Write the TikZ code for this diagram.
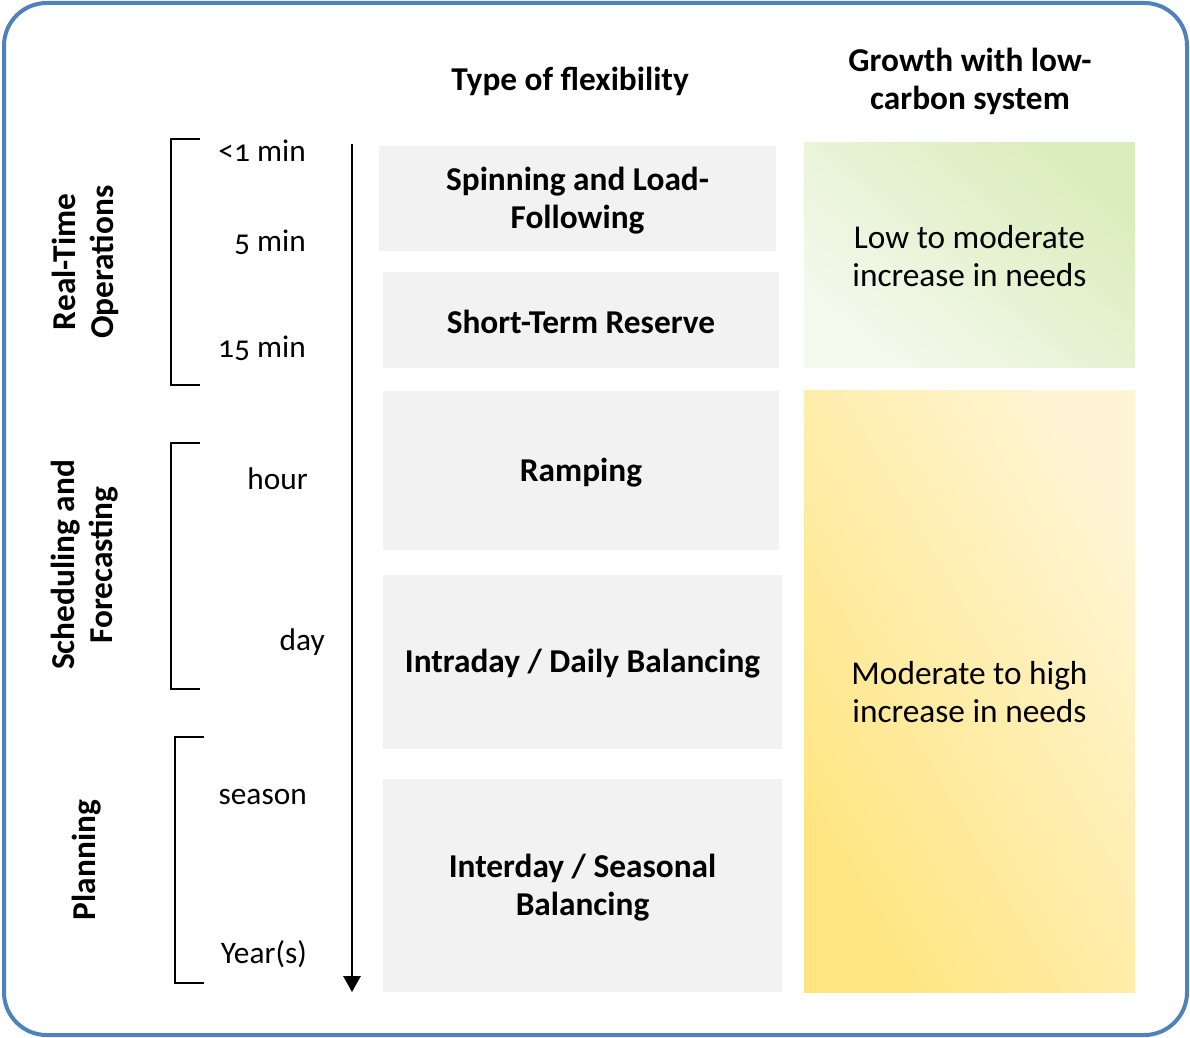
\documentclass[tikz,border=0pt]{standalone}
\usepackage{fontspec}
\setmainfont{Carlito}[Numbers=OldStyle]
\usetikzlibrary{arrows.meta}
\definecolor{framecol}{RGB}{79,129,189}
\definecolor{boxgray}{RGB}{242,242,242}
\definecolor{greenA}{RGB}{244,249,237}
\definecolor{greenB}{RGB}{219,237,188}
\definecolor{yellowA}{RGB}{255,229,128}
\definecolor{yellowB}{RGB}{255,245,212}
\newlength\px
\setlength\px{0.75pt}
\tikzset{
  fbox/.style={fill=boxgray, inner sep=0pt},
  ftext/.style={inner sep=0pt, align=center, font=\fontsize{25}{28.5}\selectfont\bfseries},
  growbox/.style={inner sep=0pt, align=center, font=\fontsize{25}{29}\selectfont},
  header/.style={inner sep=0pt, align=center, font=\fontsize{25}{28.5}\selectfont\bfseries},
  sidelabel/.style={inner sep=0pt, align=center, rotate=90, font=\fontsize{25}{28.5}\selectfont\bfseries},
  timelabel/.style={inner sep=0pt, anchor=base east, font=\fontsize{23.5}{28}\selectfont},
  bracket/.style={line width=1.1pt, black},
  timearrow/.style={line width=1.5pt, -{Triangle[length=12pt,width=13pt]}}
}
\begin{document}
\begin{tikzpicture}[x=0.75pt,y=-0.75pt]
\useasboundingbox (0,0) rectangle (1190,1038);
\draw[framecol, line width=3pt, rounded corners=32pt] (4,3) rectangle (1187,1035);

% headers
\node[header] (h1) at (570,81) {Type of flexibility};
\node[header] (h2) at (970,81) {Growth with low-\\carbon system};

% side labels
\node[sidelabel] (s1) at (85,262) {Real-Time\\Operations};
\node[sidelabel] (s2) at (85,565) {Scheduling and\\Forecasting};
\node[sidelabel] (s3) at (87,860) {Planning};

% brackets
\draw[bracket] (200,139) -- (171,139) -- (171,385) -- (200,385);
\draw[bracket] (200,443) -- (171,443) -- (171,689) -- (200,689);
\draw[bracket] (204,737) -- (175,737) -- (175,983) -- (204,983);

% time labels
\node[timelabel] (t1) at (306,162) {<1 min};
\node[timelabel] (t2) at (306,252) {5 min};
\node[timelabel] (t3) at (306,357) {15 min};
\node[timelabel] (t4) at (308,489) {hour};
\node[timelabel] (t5) at (325,650) {day};
\node[timelabel] (t6) at (307,804) {season};
\node[timelabel] (t7) at (307,963) {Year(s)};

% arrow
\coordinate (atop) at (352,144);
\coordinate (abot) at (352,992);
\draw[timearrow] (atop) -- (abot);

% flexibility boxes
\node[fbox, minimum width=397\px, minimum height=105\px] (b1) at (577.5,198.5) {};
\node[fbox, minimum width=396\px, minimum height=96\px] (b2) at (581,320) {};
\node[fbox, minimum width=396\px, minimum height=159\px] (b3) at (581,470.5) {};
\node[fbox, minimum width=399\px, minimum height=174\px] (b4) at (582.5,662) {};
\node[fbox, minimum width=399\px, minimum height=213\px] (b5) at (582.5,885.5) {};
\node[ftext] (b1t) at ([yshift=-1.5pt]b1.center) {Spinning and Load-\\Following};
\node[ftext] (b2t) at ([yshift=-1.5pt]b2.center) {Short-Term Reserve};
\node[ftext] (b3t) at ([yshift=-1.5pt]b3.center) {Ramping};
\node[ftext] (b4t) at ([yshift=-1.5pt]b4.center) {Intraday / Daily Balancing};
\node[ftext] (b5t) at ([yshift=-1.5pt]b5.center) {Interday / Seasonal\\Balancing};

% growth boxes
\node[growbox, minimum width=331\px, minimum height=224\px, top color=greenB, bottom color=greenA, shading angle=-40] (g1) at (969.5,255) {};
\node[growbox, minimum width=331\px, minimum height=602\px, top color=yellowB, bottom color=yellowA, shading angle=-60] (g2) at (969.5,691) {};
\node[growbox] (g1t) at ([yshift=-0.75pt]g1.center) {Low to moderate\\increase in needs};
\node[growbox] (g2t) at ([yshift=-0.75pt]g2.center) {Moderate to high\\increase in needs};
\end{tikzpicture}
\end{document}
